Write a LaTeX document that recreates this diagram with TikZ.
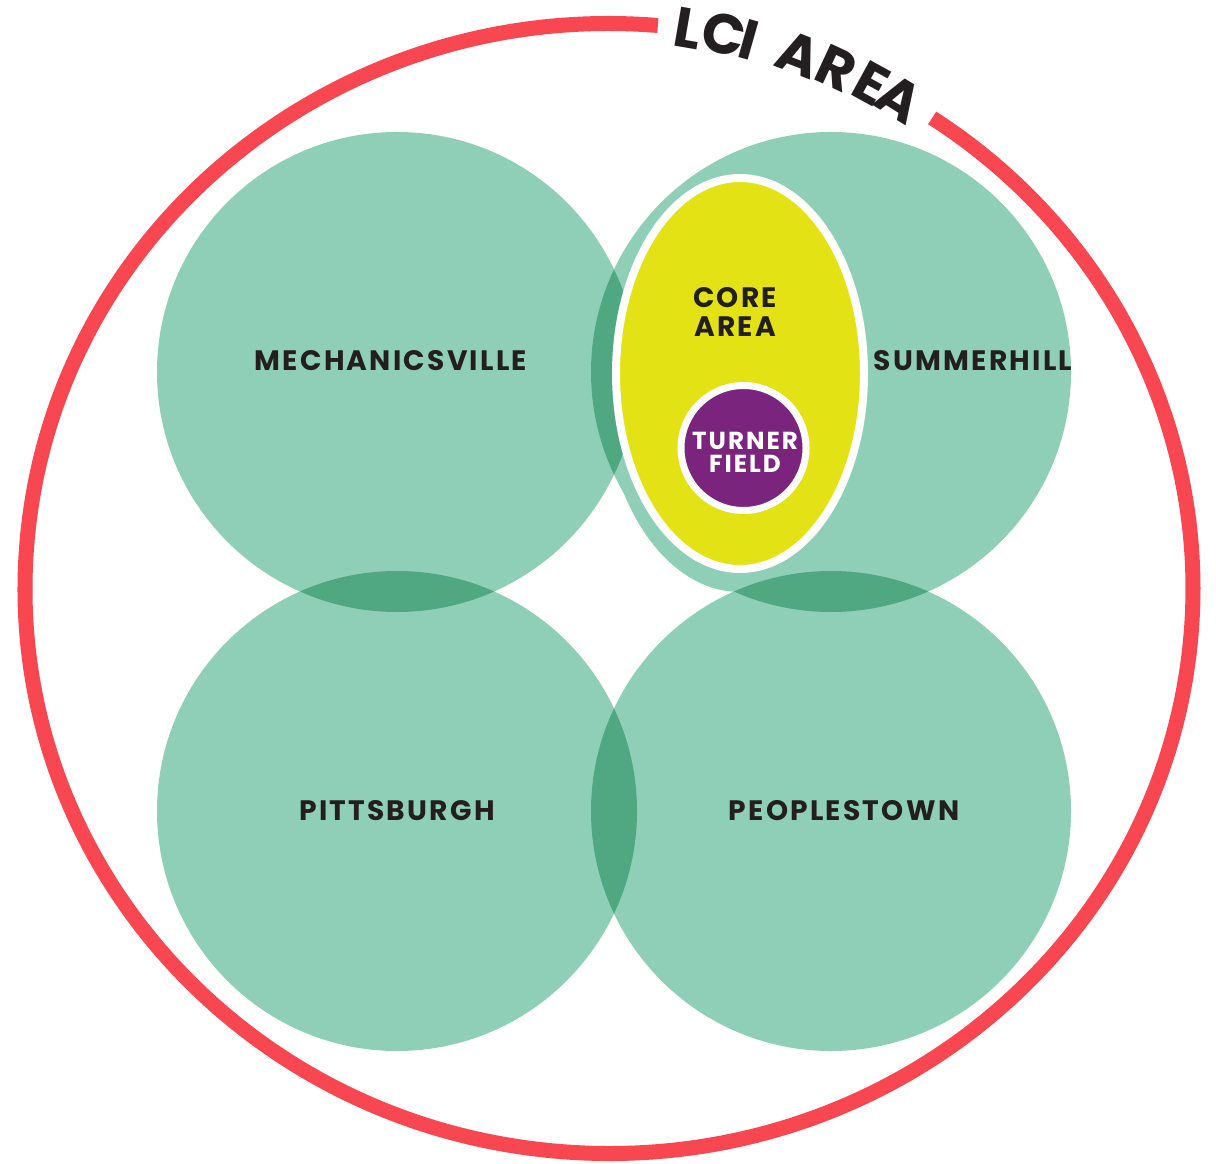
\documentclass[tikz,border=0pt]{standalone}
\usepackage{fontspec}
\newfontfamily\gotham{Poppins}
\usetikzlibrary{positioning}

\definecolor{ringred}{HTML}{F94752}
\definecolor{hoodgreen}{HTML}{8FCFB7}
\definecolor{lensgreen}{HTML}{50A883}
\definecolor{coreyellow}{HTML}{E3E214}
\definecolor{fieldpurple}{HTML}{7B247D}
\definecolor{ink}{HTML}{231F20}

\tikzset{
  hood/.style={fill=hoodgreen},
  lens/.style={fill=lensgreen},
  lbl/.style={font=\gotham\bfseries\addfontfeatures{LetterSpace=8}\fontsize{8}{8.1}\selectfont,
    text=ink, inner sep=0pt, align=center},
  ringletter/.style={font=\gotham\bfseries\fontsize{16}{17}\selectfont, text=ink, inner sep=0pt}
}

\begin{document}
\begin{tikzpicture}[x=0.01cm,y=0.01cm]
	\useasboundingbox (0,0) rectangle (1216,1163);
	\coordinate (mech) at (397,791);
	\coordinate (summ) at (831,791);
	\coordinate (pitt) at (397,352);
	\coordinate (peop) at (831,352);
	\coordinate (core) at (740,789.5);
	\coordinate (halo) at (740,781);
	\coordinate (turner) at (743.5,715);
	\coordinate (lci) at (609,574.5);

	% neighbourhoods
	\foreach \c in {mech,summ,pitt,peop}
		\fill[hood] (\c) circle[radius=240];
	\fill[hood] (halo) ellipse[x radius=137, y radius=210];

	% overlaps
	\begin{scope}
		\clip (mech) circle[radius=240];
		\fill[lens] (summ) circle[radius=240];
		\fill[lens] (pitt) circle[radius=240];
		\fill[lens] (halo) ellipse[x radius=137, y radius=210];
	\end{scope}
	\begin{scope}
		\clip (peop) circle[radius=240];
		\fill[lens] (summ) circle[radius=240];
		\fill[lens] (pitt) circle[radius=240];
	\end{scope}

	% core area and stadium
	\draw[white, line width=0.08cm, fill=coreyellow] (core) ellipse[x radius=124, y radius=195.5];
	\draw[white, line width=0.07cm, fill=fieldpurple] (turner) circle[radius=62.5];

	\node[lbl] (mechlbl) at (391,802) {MECHANICSVILLE};
	\node[lbl] (summlbl) at (973,802) {SUMMERHILL};
	\node[lbl] (pittlbl) at (397,352) {PITTSBURGH};
	\node[lbl] (peoplbl) at (844,352) {PEOPLESTOWN};
	\node[lbl, font=\gotham\bfseries\addfontfeatures{LetterSpace=8}\fontsize{8}{8.1}\selectfont] (corelbl) at (735,851) {CORE\\AREA};
	\node[lbl, text=white, font=\gotham\bfseries\addfontfeatures{LetterSpace=8}\fontsize{7}{6.55}\selectfont] (turnerlbl) at (745,710.5) {TURNER\\FIELD};

	% LCI boundary
	\begin{scope}[shift={(lci)}]
		\draw[ringred, line width=0.15cm] (85.2:584 and 565) arc[start angle=85.2, end angle=416.4, x radius=584, y radius=565];
		\foreach \ch/\t [count=\i] in {L/82.2,C/78.6,I/76.1,A/71.0,R/67.1,E/63.3,A/60.2}
			\node[ringletter, rotate=\t-92] (lci\i) at (\t:584 and 565) {\ch};
	\end{scope}
\end{tikzpicture}
\end{document}
